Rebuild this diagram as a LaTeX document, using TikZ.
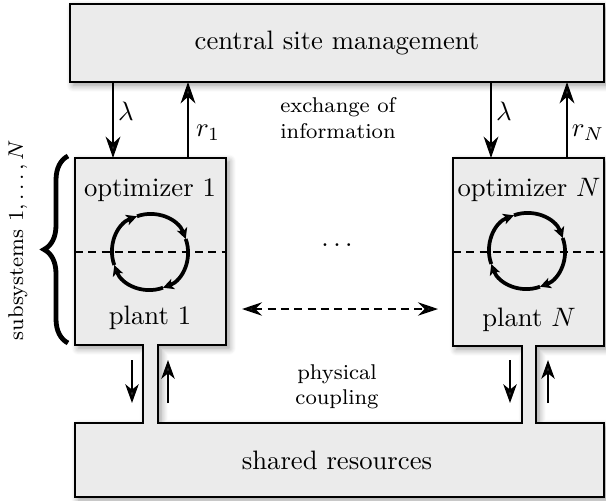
\documentclass[tikz,border=0pt]{standalone}
\usetikzlibrary{arrows.meta,decorations.pathreplacing,shadows.blur}
\definecolor{boxgray}{RGB}{235,235,235}
\begin{document}
\begin{tikzpicture}[x=0.375pt,y=-0.375pt,
  shade box/.style={draw=black,line width=1pt,fill=boxgray,
    blur shadow={shadow xshift=1.2pt,shadow yshift=-1.2pt,shadow blur steps=8,shadow blur radius=2.5pt}},
  bigarrow/.style={line width=1pt,-{Stealth[length=8pt,width=5.5pt,inset=2.5pt]}},
  smallarrow/.style={line width=0.9pt,-{Stealth[length=7pt,width=5pt,inset=2pt]}},
  looparc/.style={line width=1.4pt,-{Stealth[length=4pt,width=4pt,inset=1pt]}},
  sepline/.style={line width=0.7pt,dash pattern=on 3pt off 2pt},
  lbl/.style={inner sep=1pt},
  smalltext/.style={font=\footnotesize,align=center,inner sep=0pt}]
\useasboundingbox (0,0) rectangle (606,500);

% top box
\node[shade box,minimum width=200.25pt,minimum height=29.25pt,inner sep=0pt] (csm) at (337,43) {central site management};

% subsystem boxes + tubes + shared resources as one outline
\path[shade box] (75,158) -- (226,158) -- (226,345) -- (158,345) -- (158,423)
  -- (522,423) -- (522,346) -- (453,346) -- (453,158) -- (604,158) -- (604,346)
  -- (536,346) -- (536,423) -- (604,423) -- (604,497) -- (75,497) -- (75,423)
  -- (143,423) -- (143,345) -- (75,345) -- cycle;

% separating dashed lines
\coordinate (d1l) at (75,252);
\coordinate (d1r) at (226,252);
\coordinate (dNl) at (453,252);
\coordinate (dNr) at (604,252);
\draw[sepline] (d1l) -- (d1r);
\draw[sepline] (dNl) -- (dNr);

% texts
\node (opt1) at (150,190) {optimizer 1};
\node (pl1) at (150,318) {plant 1};
\node (optN) at (529,190) {optimizer $N$};
\node (plN) at (529,320) {plant $N$};
\node (shr) at (337,460) {shared resources};
\node (dots) at (337,245) {$\dots$};
\node[smalltext] (exch) at (338,118) {exchange of\\information};
\node[smalltext] (phys) at (337,387) {physical\\coupling};

% loops
\coordinate (c1) at (150,252);
\coordinate (cN) at (527,251);
\foreach \c in {c1,cN}{
  \draw[looparc] ([shift={(-200:38)}]\c) arc[start angle=-200,end angle=-110,radius=38];
  \draw[looparc] ([shift={(-110:38)}]\c) arc[start angle=-110,end angle=-20,radius=38];
  \draw[looparc] ([shift={(-20:38)}]\c) arc[start angle=-20,end angle=70,radius=38];
  \draw[looparc] ([shift={(70:38)}]\c) arc[start angle=70,end angle=160,radius=38];
}

% information exchange arrows
\coordinate (l1t) at (113,82);  \coordinate (l1b) at (113,158);
\coordinate (r1t) at (188,82);  \coordinate (r1b) at (188,158);
\coordinate (lNt) at (491,82);  \coordinate (lNb) at (491,158);
\coordinate (rNt) at (567,82);  \coordinate (rNb) at (567,158);
\draw[bigarrow] (l1t) -- (l1b);
\draw[bigarrow] (r1b) -- (r1t);
\draw[bigarrow] (lNt) -- (lNb);
\draw[bigarrow] (rNb) -- (rNt);
\node[lbl] (lam1) at (126,111) {$\lambda$};
\node[lbl] (rr1) at (208,133) {$r_1$};
\node[lbl] (lamN) at (504,111) {$\lambda$};
\node[lbl] (rrN) at (588,133) {$r_N$};

% physical coupling arrows
\coordinate (p1a) at (132,360); \coordinate (p1b) at (132,403);
\coordinate (p1c) at (168,403); \coordinate (p1d) at (168,360);
\coordinate (pNa) at (510,360); \coordinate (pNb) at (510,403);
\coordinate (pNc) at (548,403); \coordinate (pNd) at (548,360);
\draw[smallarrow] (p1a) -- (p1b);
\draw[smallarrow] (p1c) -- (p1d);
\draw[smallarrow] (pNa) -- (pNb);
\draw[smallarrow] (pNc) -- (pNd);

% dashed double arrow
\coordinate (da) at (242,309);
\coordinate (db) at (438,309);
\draw[line width=0.9pt,dash pattern=on 3pt off 2pt,
  {Stealth[length=7.5pt,width=5pt,inset=2.5pt]}-{Stealth[length=7.5pt,width=5pt,inset=2.5pt]}] (da) -- (db);

% brace and label
\coordinate (bb) at (68,343);
\coordinate (bt) at (68,156);
\draw[decorate,decoration={brace,amplitude=9pt},line width=1.8pt] (bb) -- (bt);
\node[rotate=90,font=\footnotesize] (subs) at (18,240) {subsystems $1,\dots,N$};
\end{tikzpicture}
\end{document}
